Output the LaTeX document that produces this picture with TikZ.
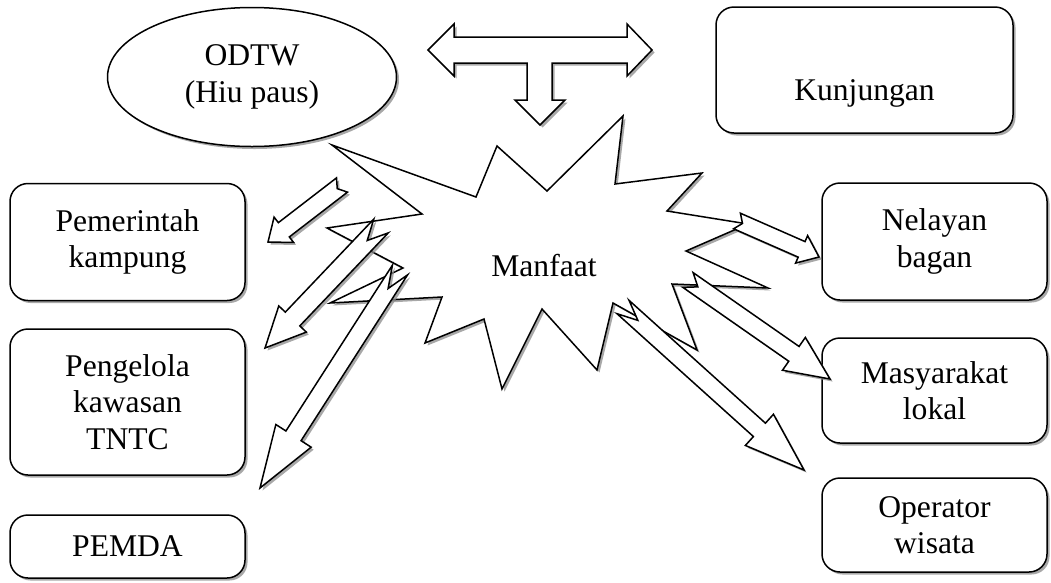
\documentclass[tikz,border=0pt]{standalone}
\usepackage{fontspec}
\setmainfont{Liberation Serif}
\usetikzlibrary{shapes.geometric,shadows,calc}
\newcommand\fs{\fontsize{31.6}{36.5}\selectfont}
% notched block arrow: tail, tip, half shaft, half head, head length, notch depth
\newcommand\barrow[6]{%
  \path ($(#2)!#5!(#1)$) coordinate (bc) ($(#1)!#6!(#2)$) coordinate (bn);
  \draw[arrst] ($(#1)!#3!90:(#2)$) -- ($(bc)!#3!-90:(#1)$) -- ($(bc)!#4!-90:(#1)$)
    -- (#2) -- ($(bc)!#4!90:(#1)$) -- ($(bc)!#3!90:(#1)$) -- ($(#1)!#3!-90:(#2)$)
    -- (bn) -- cycle;}
\tikzset{
  shad/.style={drop shadow={shadow xshift=2.5pt,shadow yshift=-2.5pt,fill=black!45,opacity=0.75}},
  box/.style={draw,line width=1.5pt,rounded corners=18pt,fill=white,align=center,
    font=\fs,inner sep=0pt,shad},
  oval/.style={draw,ellipse,line width=1.5pt,fill=white,align=center,font=\fs,inner sep=0pt,shad},
  arrst/.style={draw,line width=1.5pt,fill=white,line join=miter,shad},
  starst/.style={draw,line width=1.5pt,fill=white,line join=miter,shad}
}
\begin{document}
\begin{tikzpicture}[x=1pt,y=-1pt]
\useasboundingbox[fill=white] (0,0) rectangle (1051,582);

% ellipse and boxes
\node[oval,minimum width=289pt,minimum height=139pt] (odtw) at (252,77) {ODTW\\(Hiu paus)};
\node[box,minimum width=297pt,minimum height=126pt,text height=70pt,text depth=10pt] (kunj) at (864.5,70) {Kunjungan};
\node[box,minimum width=235pt,minimum height=117pt] (pem) at (127.5,242) {Pemerintah\\kampung};
\node[box,minimum width=235pt,minimum height=146pt] (peng) at (127.5,402) {Pengelola\\kawasan\\TNTC};
\node[box,minimum width=235pt,minimum height=63pt] (pemda) at (127.5,546.5) {PEMDA};
\node[box,minimum width=225pt,minimum height=117pt] (nel) at (934.5,241.5) {Nelayan\\bagan};
\node[box,minimum width=225pt,minimum height=105pt] (mas) at (934.5,390.5) {Masyarakat\\lokal};
\node[box,minimum width=225pt,minimum height=94pt] (opr) at (934.5,525) {Operator\\wisata};

% star
\draw[starst] (332,145) -- (476,197) -- (497,146) -- (547,191) -- (623,116) -- (615,184)
  -- (702,173) -- (667,211) -- (748,224) -- (686,251) -- (768,288) -- (672,284)
  -- (697,350) -- (613,303) -- (597,370) -- (542,309) -- (502,389) -- (484,319)
  -- (425,343) -- (442,297) -- (330,303) -- (403,268) -- (327,228) -- (422,214) -- cycle;
\node[font=\fs,inner sep=0pt] (manfaat) at (544,266) {Manfaat};

% three-way arrow
\draw[arrst] (428,50) -- (454,24) -- (454,37) -- (627,37) -- (627,24) -- (652,50)
  -- (627,76) -- (627,63) -- (552,63) -- (552,100) -- (565,100) -- (540,125)
  -- (515,100) -- (527,100) -- (527,63) -- (454,63) -- (454,76) -- cycle;

% block arrows
\coordinate (t1) at (342,185); \coordinate (h1) at (268,242);
\coordinate (t2) at (381,226); \coordinate (h2) at (265,348);
\coordinate (t3) at (400,270); \coordinate (h3) at (260,488);
\coordinate (t4) at (737,221); \coordinate (h4) at (819,257);
\coordinate (t5) at (688,280); \coordinate (h5) at (830,379);
\coordinate (t6) at (623,307); \coordinate (h6) at (804,470);
\barrow{t1}{h1}{9pt}{16pt}{20pt}{6pt}
\barrow{t2}{h2}{10pt}{19pt}{40pt}{20pt}
\barrow{t3}{h3}{9pt}{21pt}{62pt}{22pt}
\barrow{t4}{h4}{8.5pt}{15pt}{19pt}{6pt}
\barrow{t5}{h5}{9pt}{20pt}{44pt}{12pt}
\barrow{t6}{h6}{9pt}{21pt}{60pt}{20pt}
\end{tikzpicture}
\end{document}
